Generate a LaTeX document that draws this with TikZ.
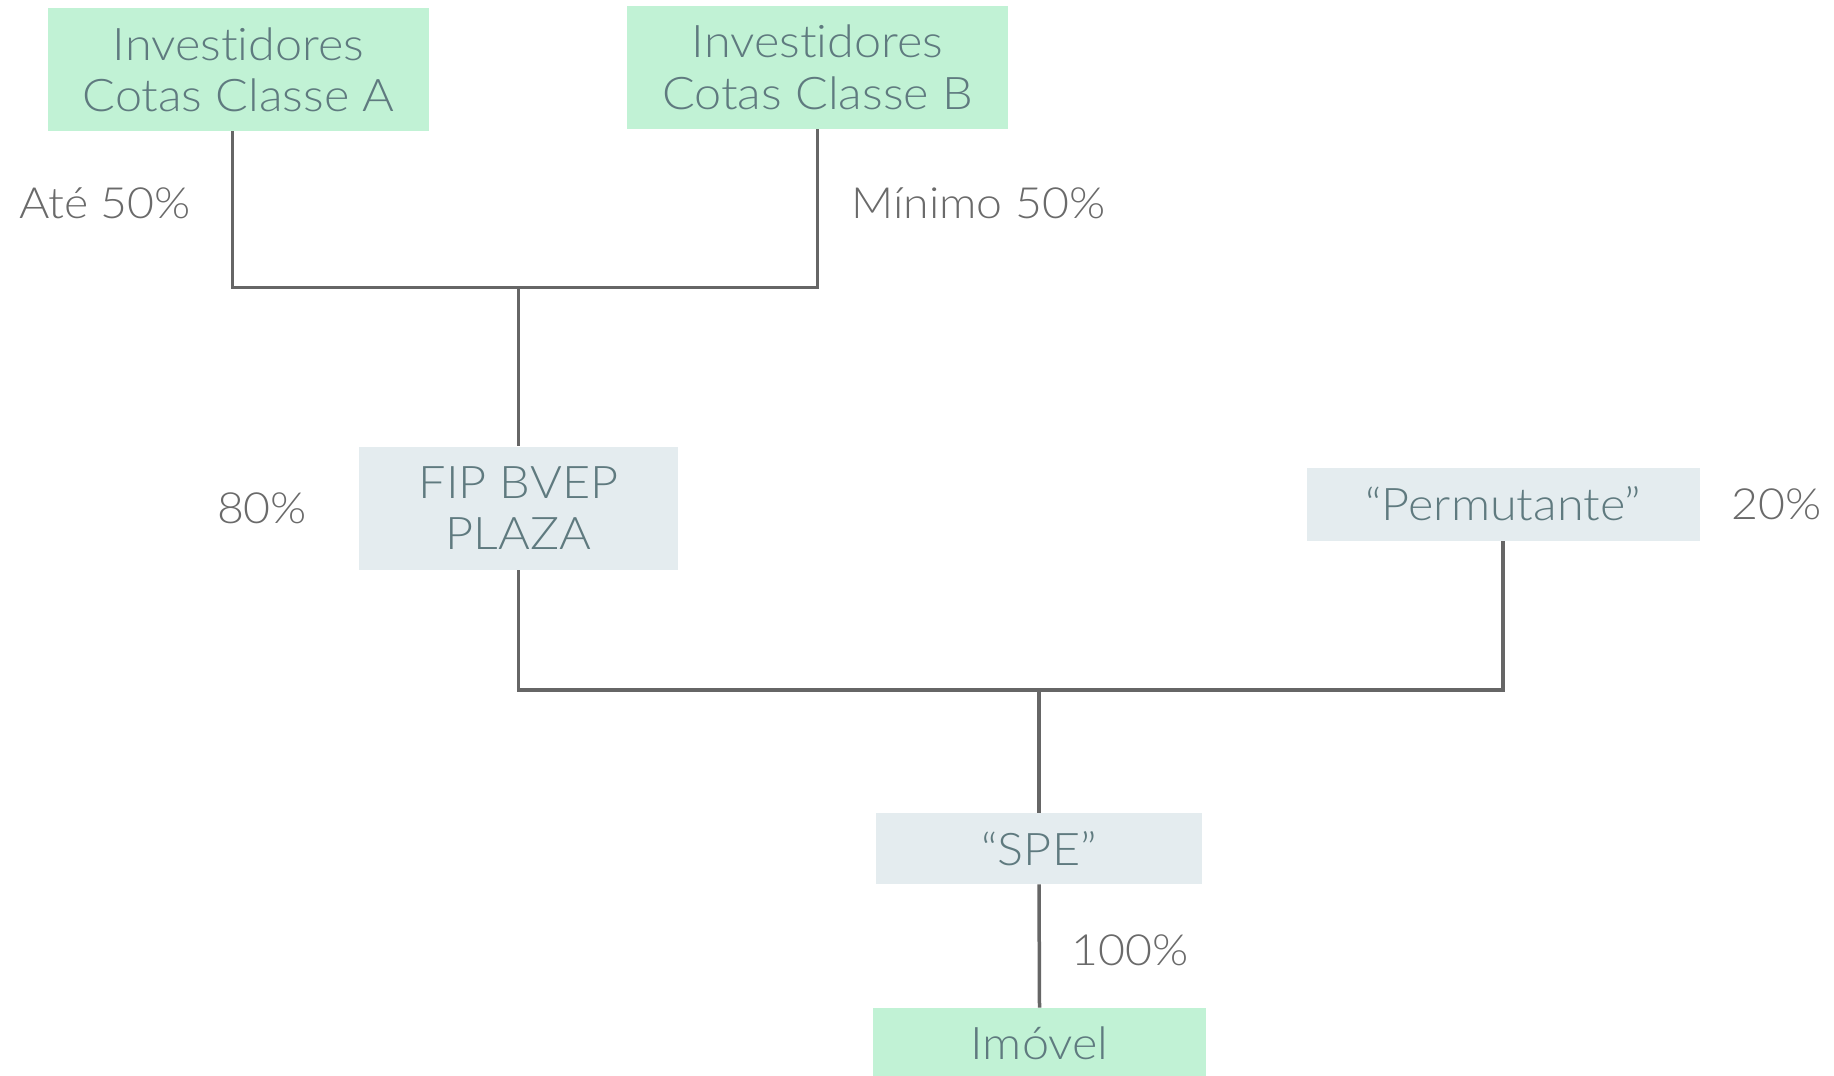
\documentclass[tikz,border=0pt]{standalone}
\usepackage{fontspec}
\setmainfont{Lato}[UprightFont={* Light}, Ligatures=NoCommon, FakeStretch=1.08]
\usetikzlibrary{positioning}

\definecolor{boxgreen}{HTML}{C1F2D5}
\definecolor{boxgrey}{HTML}{E4ECEF}
\definecolor{boxtext}{HTML}{5F7A7F}
\definecolor{pcttext}{HTML}{6A6A6A}
\definecolor{linegrey}{HTML}{666666}

\tikzset{
  entity/.style={rectangle, inner sep=0pt, align=center, text=boxtext,
    font=\fontsize{22.5}{25.7}\selectfont},
  holder/.style={entity, fill=boxgreen},
  vehicle/.style={entity, fill=boxgrey},
  pct/.style={inner sep=0pt, text=pcttext, font=\fontsize{21.5}{25.7}\selectfont},
  link/.style={draw=linegrey, line width=1.75pt}
}

\begin{document}
\begin{tikzpicture}[x=0.5pt, y=-0.5pt]
        \useasboundingbox (0,0) rectangle (1834,1075);

        % Entities
        \node[holder, minimum width=190.5pt, minimum height=61.5pt] (A) at (238.6,69.6) {Investidores\\Cotas Classe A};
        \node[holder, minimum width=190.5pt, minimum height=61.5pt] (B) at (817.5,67.3) {Investidores\\Cotas Classe B};
        \node[vehicle, minimum width=159.5pt, minimum height=61.5pt] (fip) at (518.4,508.2) {FIP BVEP\\PLAZA};
        \node[vehicle, minimum width=196.5pt, minimum height=36.5pt] (perm) at (1503,504) {“Permutante”};
        \node[vehicle, minimum width=163pt, minimum height=35.5pt] (spe) at (1039,848.5) {“SPE”};
        \node[holder, minimum width=166.5pt, minimum height=35.5pt] (imovel) at (1039.5,1043.5) {Imóvel};

        % Junctions
        \coordinate (j1) at (518.4,287.7);
        \coordinate (j2) at (1039,690);

        % Edges
        \draw[link] ([xshift=-3pt]A.south) |- (j1) -| (B.south);
        \draw[link] (j1) -- (fip.north);
        \draw[link] (fip.south) |- (j2) -| (perm.south);
        \draw[link] (j2) -- (spe.north);
        \draw[link] (spe.south) -- (imovel.north);

        % Shares
        \node[pct] (shA) at (105,203.5) {Até 50\%};
        \node[pct, anchor=west] (shB) at (851,203.5) {Mínimo 50\%};
        \node[pct, left=25.5pt of fip] (shF) {80\%};
        \node[pct, right=15.5pt of perm] (shP) {20\%};
        \node[pct, anchor=west] (shS) at (1071,950) {100\%};
\end{tikzpicture}
\end{document}
